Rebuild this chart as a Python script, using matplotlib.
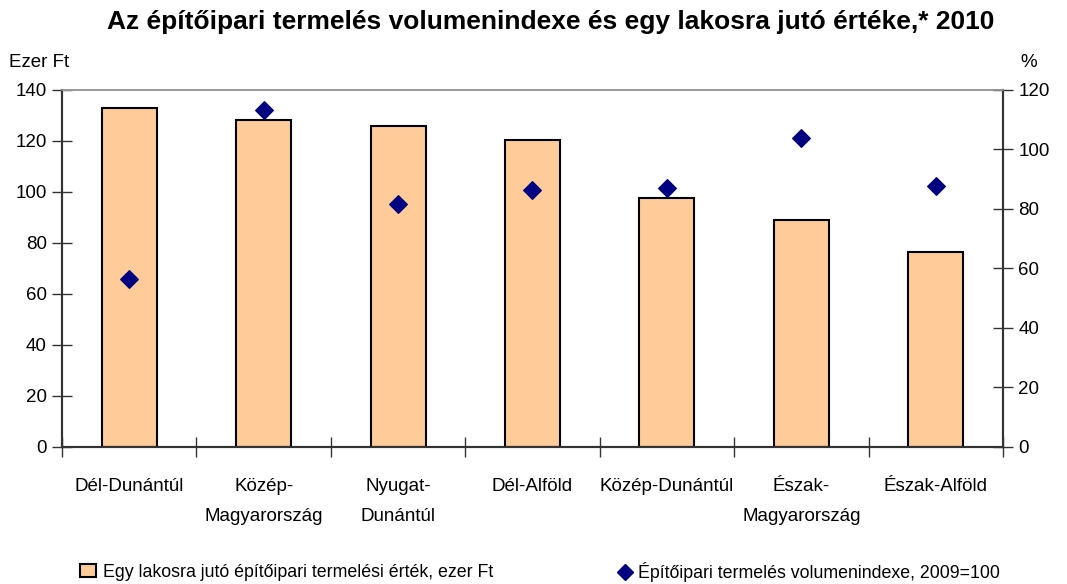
import matplotlib
matplotlib.use("Agg")
import matplotlib.pyplot as plt
from matplotlib.lines import Line2D
from matplotlib.patches import Patch
import numpy as np

plt.rcParams['font.family'] = ['Liberation Sans Narrow', 'Liberation Sans', 'DejaVu Sans']

regions = ["Dél-Dunántúl", "Közép-\nMagyarország", "Nyugat-\nDunántúl", "Dél-Alföld",
           "Közép-Dunántúl", "Észak-\nMagyarország", "Észak-Alföld"]
per_capita = [133, 128.2, 125.9, 120.4, 97.6, 89.0, 76.5]
volume_index = [56.5, 113.3, 81.7, 86.4, 87.1, 103.8, 87.6]
left_ticks = [0, 20, 40, 60, 80, 100, 120, 140]
right_ticks = [0, 20, 40, 60, 80, 100, 120]

bar_color = "#FFCC99"
dot_color = "#000080"

fig = plt.figure(figsize=(10.67, 5.84), dpi=100)
ax = fig.add_axes([0.0581, 0.2346, 0.8819, 0.6113])
ax2 = ax.twinx()

x = np.arange(len(regions))
ax.bar(x, per_capita, width=0.41, color=bar_color, edgecolor="black", linewidth=1.5, zorder=2)
ax2.scatter(x, volume_index, marker="D", s=80, color=dot_color, zorder=3)

ax.set_xlim(-0.5, len(regions) - 0.5)
ax.set_ylim(0, 140)
ax2.set_ylim(0, 120)
ax.set_yticks(left_ticks)
ax2.set_yticks(right_ticks)

ax.set_xticks(x)
ax.set_xticklabels(regions, fontsize=13.5, linespacing=2.0)
ax.tick_params(axis="x", length=0, pad=22)
ax.set_xticks(np.arange(-0.5, len(regions), 1), minor=True)
ax.tick_params(axis="x", which="minor", direction="inout", length=14, width=1, color="#333333")

ax.tick_params(axis="y", direction="inout", length=14, width=1, color="#333333", labelsize=13.5, pad=4)
ax2.tick_params(axis="y", direction="inout", length=14, width=1, color="#333333", labelsize=13.5, pad=4)

for a in (ax, ax2):
    a.spines["top"].set_color("#999999")
    a.spines["top"].set_linewidth(1.2)
    a.spines["left"].set_color("#333333")
    a.spines["right"].set_color("#333333")
    a.spines["bottom"].set_color("#333333")
    for s in ("left", "right", "bottom"):
        a.spines[s].set_linewidth(1.5)

ax.set_zorder(ax2.get_zorder() - 1)
ax2.patch.set_visible(False)

fig.text(0.008, 0.893, "Ezer Ft", fontsize=13.5, ha="left", va="center")
fig.text(0.972, 0.893, "%", fontsize=13.5, ha="right", va="center")
fig.text(0.516, 0.963, "Az építőipari termelés volumenindexe és egy lakosra jutó értéke,* 2010",
         fontsize=19, fontweight="bold", ha="center", va="center", family=['Liberation Sans', 'DejaVu Sans'])

h1 = Patch(facecolor=bar_color, edgecolor="black", linewidth=1.5)
h2 = Line2D([], [], marker="D", linestyle="none", color=dot_color, markersize=8)
fig.legend([h1], ["Egy lakosra jutó építőipari termelési érték, ezer Ft"], loc="center left",
           bbox_to_anchor=(0.060, 0.02), frameon=False, fontsize=12.8, handlelength=0.9, handletextpad=0.4)
fig.legend([h2], ["Építőipari termelés volumenindexe, 2009=100"], loc="center left",
           bbox_to_anchor=(0.563, 0.02), frameon=False, fontsize=12.8, handlelength=0.9, handletextpad=0.3)

fig.savefig("out.png", dpi=100)
